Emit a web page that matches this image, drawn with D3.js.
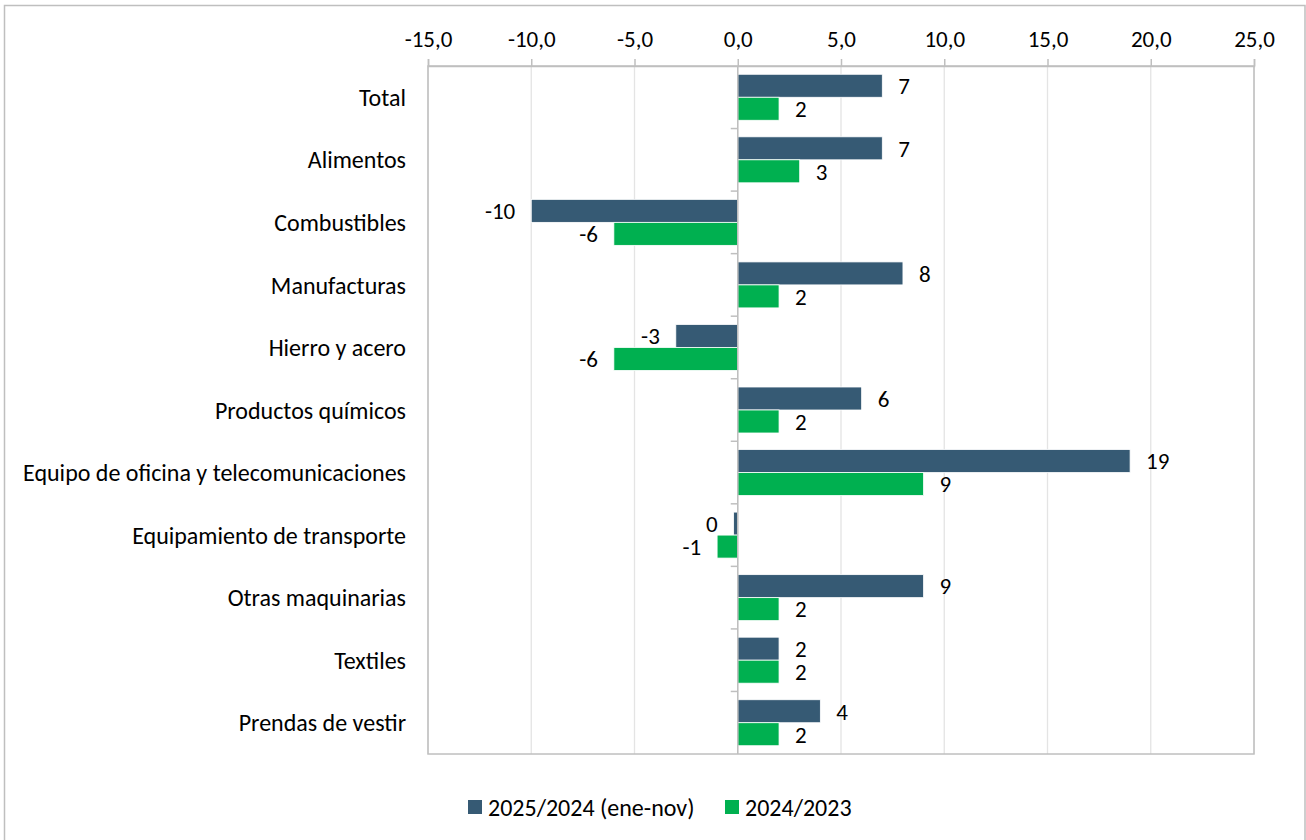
<!DOCTYPE html>
<html>
<head>
<meta charset="utf-8">
<script src="https://cdn.jsdelivr.net/npm/d3@7"></script>
<style>
  body { margin: 0; background: #fff; }
  svg text { font-family: Carlito, Lato, sans-serif; fill: #000; }
</style>
</head>
<body>
<svg class="chart"></svg>
<script>
var categories = ["Total", "Alimentos", "Combustibles", "Manufacturas", "Hierro y acero",
	"Productos químicos", "Equipo de oficina y telecomunicaciones", "Equipamiento de transporte",
	"Otras maquinarias", "Textiles", "Prendas de vestir"];
var seriesNames = ["2025/2024 (ene-nov)", "2024/2023"];
var values2025 = [7, 7, -10, 8, -3, 6, 19, -0.2, 9, 2, 4];
var values2024 = [2, 3, -6, 2, -6, 2, 9, -1, 2, 2, 2];
var tickValues = [-15, -10, -5, 0, 5, 10, 15, 20, 25];
var colors = ["#365A74", "#00B050"];

var W = 1306, H = 840,
		plotL = 428, plotR = 1254,
		plotT = 66, plotB = 754,
		fs = 23, fsText = 24;

var locale = d3.formatLocale({decimal: ",", thousands: ".", grouping: [3], currency: ["", ""], minus: "-"});
var fmtTick = locale.format(".1f"),
		fmtVal = locale.format(".0f");

var rows = categories.map(function (c, i) {
	return {cat: c, vals: [values2025[i], values2024[i]]};
});

var x = d3.scaleLinear()
		.domain([-15, 25])
		.range([plotL, plotR]);

var y0 = d3.scaleBand()
		.domain(categories)
		.range([plotT, plotB]);

var y1 = d3.scaleBand()
		.domain([0, 1])
		.range([0, y0.bandwidth()])
		.paddingOuter(0.36);

var svg = d3.select(".chart")
		.attr("width", W)
		.attr("height", H);

// outer frame of the chart object
svg.append("path")
		.attr("d", "M4.5," + (H + 5) + "V5.5H1305V" + (H + 5))
		.attr("fill", "none")
		.attr("stroke", "#BFBFBF")
		.attr("stroke-width", 1.5);

// vertical gridlines
svg.append("g")
	.selectAll("line")
	.data(tickValues)
	.enter().append("line")
		.attr("x1", x).attr("x2", x)
		.attr("y1", plotT).attr("y2", plotB)
		.attr("stroke", "#E4E4E4")
		.attr("stroke-width", 1.3);

// plot border
svg.append("rect")
		.attr("x", plotL).attr("y", plotT)
		.attr("width", plotR - plotL).attr("height", plotB - plotT)
		.attr("fill", "none")
		.attr("stroke", "#BFBFBF")
		.attr("stroke-width", 1.5);

// value axis on top
var xAxis = svg.append("g")
		.attr("transform", "translate(0," + plotT + ")")
		.call(d3.axisTop(x).tickValues(tickValues).tickFormat(fmtTick).tickSize(7).tickPadding(12));
xAxis.select(".domain").attr("stroke", "#BFBFBF").attr("stroke-width", 1.5);
xAxis.selectAll(".tick line").attr("stroke", "#BFBFBF").attr("stroke-width", 1.5);
xAxis.selectAll(".tick text").attr("font-size", fs).attr("font-family", null);

// bars
var group = svg.append("g")
	.selectAll("g")
	.data(rows)
	.enter().append("g")
		.attr("transform", function (d) { return "translate(0," + y0(d.cat) + ")"; });

var cell = group.selectAll("g")
	.data(function (d) { return d.vals.map(function (v, i) { return {v: v, s: i}; }); })
	.enter().append("g");

cell.append("rect")
		.attr("x", function (d) { return x(Math.min(0, d.v)); })
		.attr("y", function (d) { return y1(d.s); })
		.attr("width", function (d) { return Math.abs(x(d.v) - x(0)); })
		.attr("height", y1.bandwidth())
		.attr("fill", function (d) { return colors[d.s]; })
		.attr("stroke", "#fff")
		.attr("stroke-width", 0.8);

cell.append("text")
		.attr("x", function (d) { return d.v < 0 ? x(d.v) - 16 : x(d.v) + 16; })
		.attr("y", function (d) { return y1(d.s) + y1.bandwidth() / 2; })
		.attr("dy", "0.36em")
		.attr("text-anchor", function (d) { return d.v < 0 ? "end" : "start"; })
		.attr("font-size", fs)
		.text(function (d) { return fmtVal(d.v); });

// category axis sits on zero
var yAxis = svg.append("g")
		.attr("transform", "translate(" + x(0) + ",0)");
yAxis.append("line")
		.attr("y1", plotT).attr("y2", plotB)
		.attr("stroke", "#BFBFBF").attr("stroke-width", 1.5);
yAxis.selectAll(".cut")
	.data(categories.slice(1))
	.enter().append("line")
		.attr("class", "cut")
		.attr("x1", -7).attr("x2", 0)
		.attr("y1", function (d) { return y0(d); })
		.attr("y2", function (d) { return y0(d); })
		.attr("stroke", "#BFBFBF").attr("stroke-width", 1.5);

// category labels left of plot
svg.append("g")
	.selectAll("text")
	.data(categories)
	.enter().append("text")
		.attr("x", plotL - 22)
		.attr("y", function (d) { return y0(d) + y0.bandwidth() / 2; })
		.attr("dy", "0.36em")
		.attr("text-anchor", "end")
		.attr("font-size", fsText)
		.text(function (d) { return d; });

// legend
var legend = svg.append("g")
		.attr("transform", "translate(468,807)");
var li = legend.selectAll("g")
	.data(seriesNames)
	.enter().append("g")
		.attr("transform", function (d, i) { return "translate(" + (i * 257) + ",0)"; });
li.append("rect")
		.attr("x", 0).attr("y", -7)
		.attr("width", 14).attr("height", 14)
		.attr("fill", function (d, i) { return colors[i]; });
li.append("text")
		.attr("x", 20)
		.attr("dy", "0.36em")
		.attr("font-size", fsText)
		.text(function (d) { return d; });
</script>
</body>
</html>
